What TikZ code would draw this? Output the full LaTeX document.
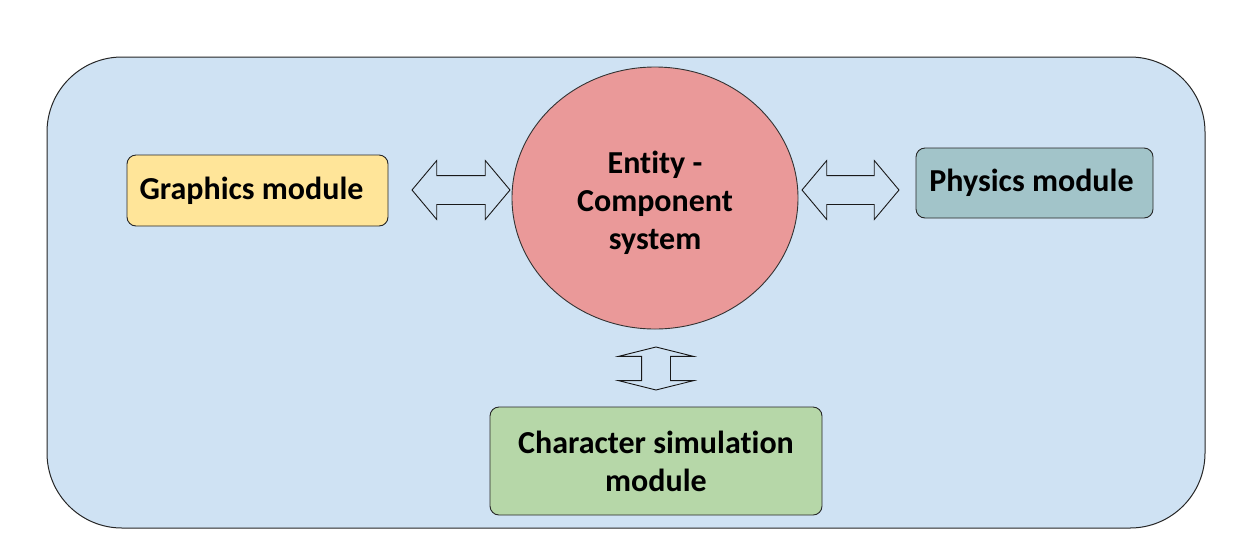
\documentclass[tikz,border=0pt]{standalone}
\usepackage{fontspec}
\setmainfont{Carlito}[Ligatures=NoCommon]
\usetikzlibrary{shapes.geometric,shapes.arrows}
\definecolor{bgblue}{RGB}{207,226,243}
\definecolor{gfxyellow}{RGB}{255,229,153}
\definecolor{phyteal}{RGB}{162,196,201}
\definecolor{ecsred}{RGB}{234,153,153}
\definecolor{chargreen}{RGB}{182,215,168}
\tikzset{
  modbox/.style={draw=black!85, line width=0.9pt, rounded corners=9pt, inner sep=0pt,
    font=\fontsize{32}{38}\selectfont\bfseries, align=center},
  dblarrow/.style={draw=black!90, fill=bgblue, line width=0.9pt, double arrow, inner sep=0pt,
    double arrow head indent=0pt}
}
\begin{document}
\begin{tikzpicture}[x=1pt,y=-1pt]
\useasboundingbox (0,0) rectangle (1255,558);
\fill[white] (0,0) rectangle (1255,558);
\draw[fill=bgblue, draw=black!85, line width=1pt, rounded corners=75pt] (47,57) rectangle (1205,528);
\node[modbox, fill=gfxyellow, minimum width=261pt, minimum height=71pt] (gfx) at (257.5,190.5) {Graphics module\hspace*{12pt}};
\node[modbox, fill=phyteal, minimum width=237pt, minimum height=70pt] (phy) at (1034.5,183) {Physics module\hspace*{6pt}};
\node[draw=black!80, line width=0.9pt, fill=ecsred, ellipse, minimum width=286pt, minimum height=262pt, inner sep=0pt] (ecs) at (655,198) {};
\node[font=\fontsize{32}{38}\selectfont\bfseries, align=center, inner sep=0pt] (ecstext) at (655,203) {Entity -\\Component\\system};
\node[modbox, fill=chargreen, minimum width=332pt, minimum height=108pt] (chr) at (656,461) {Character simulation\\module};
% double arrows
\node[dblarrow, minimum height=98pt, minimum width=58pt, inner ysep=14pt, inner xsep=0pt,
  double arrow head extend=15pt, double arrow tip angle=100] (a1) at (461,190) {};
\node[dblarrow, minimum height=97pt, minimum width=58pt, inner ysep=14pt, inner xsep=0pt,
  double arrow head extend=15pt, double arrow tip angle=100] (a2) at (850.5,190) {};
\node[dblarrow, rotate=90, minimum height=43pt, minimum width=74pt, inner ysep=14pt, inner xsep=0pt,
  double arrow head extend=23pt, double arrow tip angle=152] (a3) at (656,368.5) {};
\end{tikzpicture}
\end{document}
